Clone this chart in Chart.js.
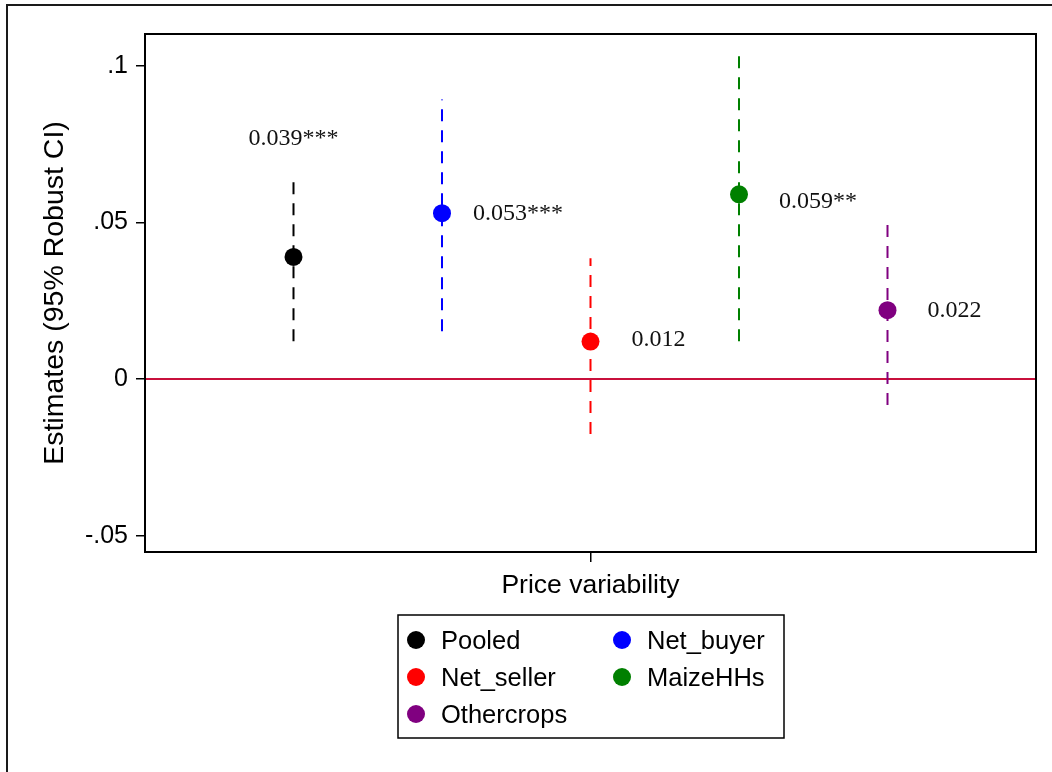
<!DOCTYPE html>
<html>
<head>
<meta charset="utf-8">
<title>Price variability estimates</title>
<script src="https://cdn.jsdelivr.net/npm/chart.js@4.4.1/dist/chart.umd.min.js"></script>
<style>
  html, body { margin: 0; padding: 0; background: #ffffff; }
  #wrap { width: 1052px; height: 772px; }
</style>
</head>
<body>
<div id="wrap"><canvas id="chart" width="1052" height="772"></canvas></div>
<script>
// Coefficient estimates with 95% robust confidence intervals
const categories = ['Pooled', 'Net_buyer', 'Net_seller', 'MaizeHHs', 'Othercrops'];
const slots = [-2, -1, 0, 1, 2];
const estimates = [0.039, 0.053, 0.012, 0.059, 0.022];
const ciLower = [0.0121, 0.0153, -0.0175, 0.0121, -0.0083];
const ciUpper = [0.0648, 0.0893, 0.0386, 0.1050, 0.0510];
const stars = ['***', '***', '', '**', ''];
const yTickValues = [-0.05, 0, 0.05, 0.1];
const yTickLabels = ['-.05', '0', '.05', '.1'];
const xTickValues = [0];
const xTitle = 'Price variability';
const yTitle = 'Estimates (95% Robust CI)';

// Styling
const colors = ['#000000', '#0000ff', '#ff0000', '#008000', '#800080'];
const zeroColor = '#c8103c';
const sans = '"Liberation Sans", Arial, sans-serif';
const serif = '"Liberation Serif", "Times New Roman", serif';
// where each value label sits relative to its marker
const labelPlace = [
  { side: 'above', dx: 0, dy: -118 },
  { side: 'right', dx: 31, dy: 1 },
  { side: 'right', dx: 41, dy: -2 },
  { side: 'right', dx: 40, dy: 7 },
  { side: 'right', dx: 40, dy: 0 }
];

const datasets = [];
// reference line at zero
datasets.push({
  type: 'line',
  label: 'zero',
  data: [{ x: -3, y: 0 }, { x: 3, y: 0 }],
  borderColor: zeroColor,
  borderWidth: 2,
  pointRadius: 0,
  showLine: true,
  order: 3
});
// confidence intervals
categories.forEach((name, i) => {
  datasets.push({
    type: 'line',
    label: name + ' CI',
    data: [{ x: slots[i], y: ciLower[i] }, { x: slots[i], y: ciUpper[i] }],
    borderColor: colors[i],
    borderWidth: 2,
    borderDash: [12, 9],
    borderCapStyle: 'butt',
    pointRadius: 0,
    showLine: true,
    order: 2
  });
});
// point estimates
const pointStart = datasets.length;
categories.forEach((name, i) => {
  datasets.push({
    type: 'scatter',
    label: name,
    data: [{ x: slots[i], y: estimates[i] }],
    backgroundColor: colors[i],
    borderColor: colors[i],
    borderWidth: 0,
    pointRadius: 9,
    pointHoverRadius: 9,
    order: 1
  });
});

const framePlugin = {
  id: 'frames',
  beforeDraw(chart) {
    const ctx = chart.ctx;
    ctx.save();
    ctx.fillStyle = '#ffffff';
    ctx.fillRect(0, 0, chart.width, chart.height);
    // outer graph region border (top and left edges)
    ctx.strokeStyle = '#1a1a1a';
    ctx.lineWidth = 2;
    ctx.beginPath();
    ctx.moveTo(7, chart.height);
    ctx.lineTo(7, 5);
    ctx.lineTo(chart.width, 5);
    ctx.stroke();
    ctx.restore();
  },
  afterDraw(chart) {
    const ctx = chart.ctx;
    const a = chart.chartArea;
    ctx.save();
    // plot region box
    ctx.strokeStyle = '#000000';
    ctx.lineWidth = 2;
    ctx.strokeRect(a.left, a.top, a.right - a.left, a.bottom - a.top);

    // value labels beside each marker
    ctx.fillStyle = '#111111';
    ctx.font = '24px ' + serif;
    ctx.textBaseline = 'middle';
    categories.forEach((name, i) => {
      const el = chart.getDatasetMeta(pointStart + i).data[0];
      const txt = estimates[i].toFixed(3) + stars[i];
      const p = labelPlace[i];
      ctx.textAlign = p.side === 'above' ? 'center' : 'left';
      ctx.fillText(txt, el.x + p.dx, el.y + p.dy);
    });

    // legend box below the plot
    const cx = (a.left + a.right) / 2;
    const bx = Math.round(cx - 193), by = 615, bw = 386, bh = 123;
    ctx.strokeStyle = '#000000';
    ctx.lineWidth = 1.5;
    ctx.strokeRect(bx, by, bw, bh);
    ctx.font = '25.5px ' + sans;
    ctx.textAlign = 'left';
    ctx.textBaseline = 'middle';
    categories.forEach((name, i) => {
      const row = Math.floor(i / 2), col = i % 2;
      const mx = bx + 18 + col * 206;
      const my = by + 25 + row * 37;
      ctx.fillStyle = colors[i];
      ctx.beginPath();
      ctx.arc(mx, my, 9, 0, Math.PI * 2);
      ctx.fill();
      ctx.fillStyle = '#000000';
      ctx.fillText(name, mx + 25, my + 2);
    });
    ctx.restore();
  }
};

new Chart(document.getElementById('chart'), {
  type: 'scatter',
  data: { datasets },
  options: {
    responsive: false,
    devicePixelRatio: 1,
    animation: false,
    events: [],
    layout: { padding: { left: 0, top: 34, right: 16, bottom: 0 } },
    plugins: {
      legend: { display: false },
      tooltip: { enabled: false }
    },
    scales: {
      x: {
        type: 'linear',
        min: -3,
        max: 3,
        afterBuildTicks(scale) { scale.ticks = xTickValues.map(v => ({ value: v })); },
        afterFit(scale) { scale.height = 220; },
        ticks: { callback: () => '', font: { size: 1 } },
        grid: { drawOnChartArea: false, drawTicks: true, tickLength: 10, color: '#000000', lineWidth: 1.5 },
        border: { display: true, color: '#000000', width: 2 },
        title: {
          display: true,
          text: xTitle,
          color: '#000000',
          font: { family: sans, size: 26.5 },
          padding: { top: 0, bottom: 170 }
        }
      },
      y: {
        type: 'linear',
        min: -0.0552,
        max: 0.1102,
        afterBuildTicks(scale) { scale.ticks = yTickValues.map(v => ({ value: v })); },
        afterFit(scale) { scale.width = 145; },
        ticks: {
          color: '#000000',
          font: { family: sans, size: 25 },
          padding: 8,
          callback: (v) => {
            const k = yTickValues.findIndex(t => Math.abs(t - v) < 1e-9);
            return k >= 0 ? yTickLabels[k] : '';
          }
        },
        grid: { drawOnChartArea: false, drawTicks: true, tickLength: 9, color: '#000000', lineWidth: 1.5 },
        border: { display: true, color: '#000000', width: 2 },
        title: {
          display: true,
          text: yTitle,
          color: '#000000',
          font: { family: sans, size: 28.5 },
          padding: { top: 38, bottom: 0 }
        }
      }
    }
  },
  plugins: [framePlugin]
});
</script>
</body>
</html>
